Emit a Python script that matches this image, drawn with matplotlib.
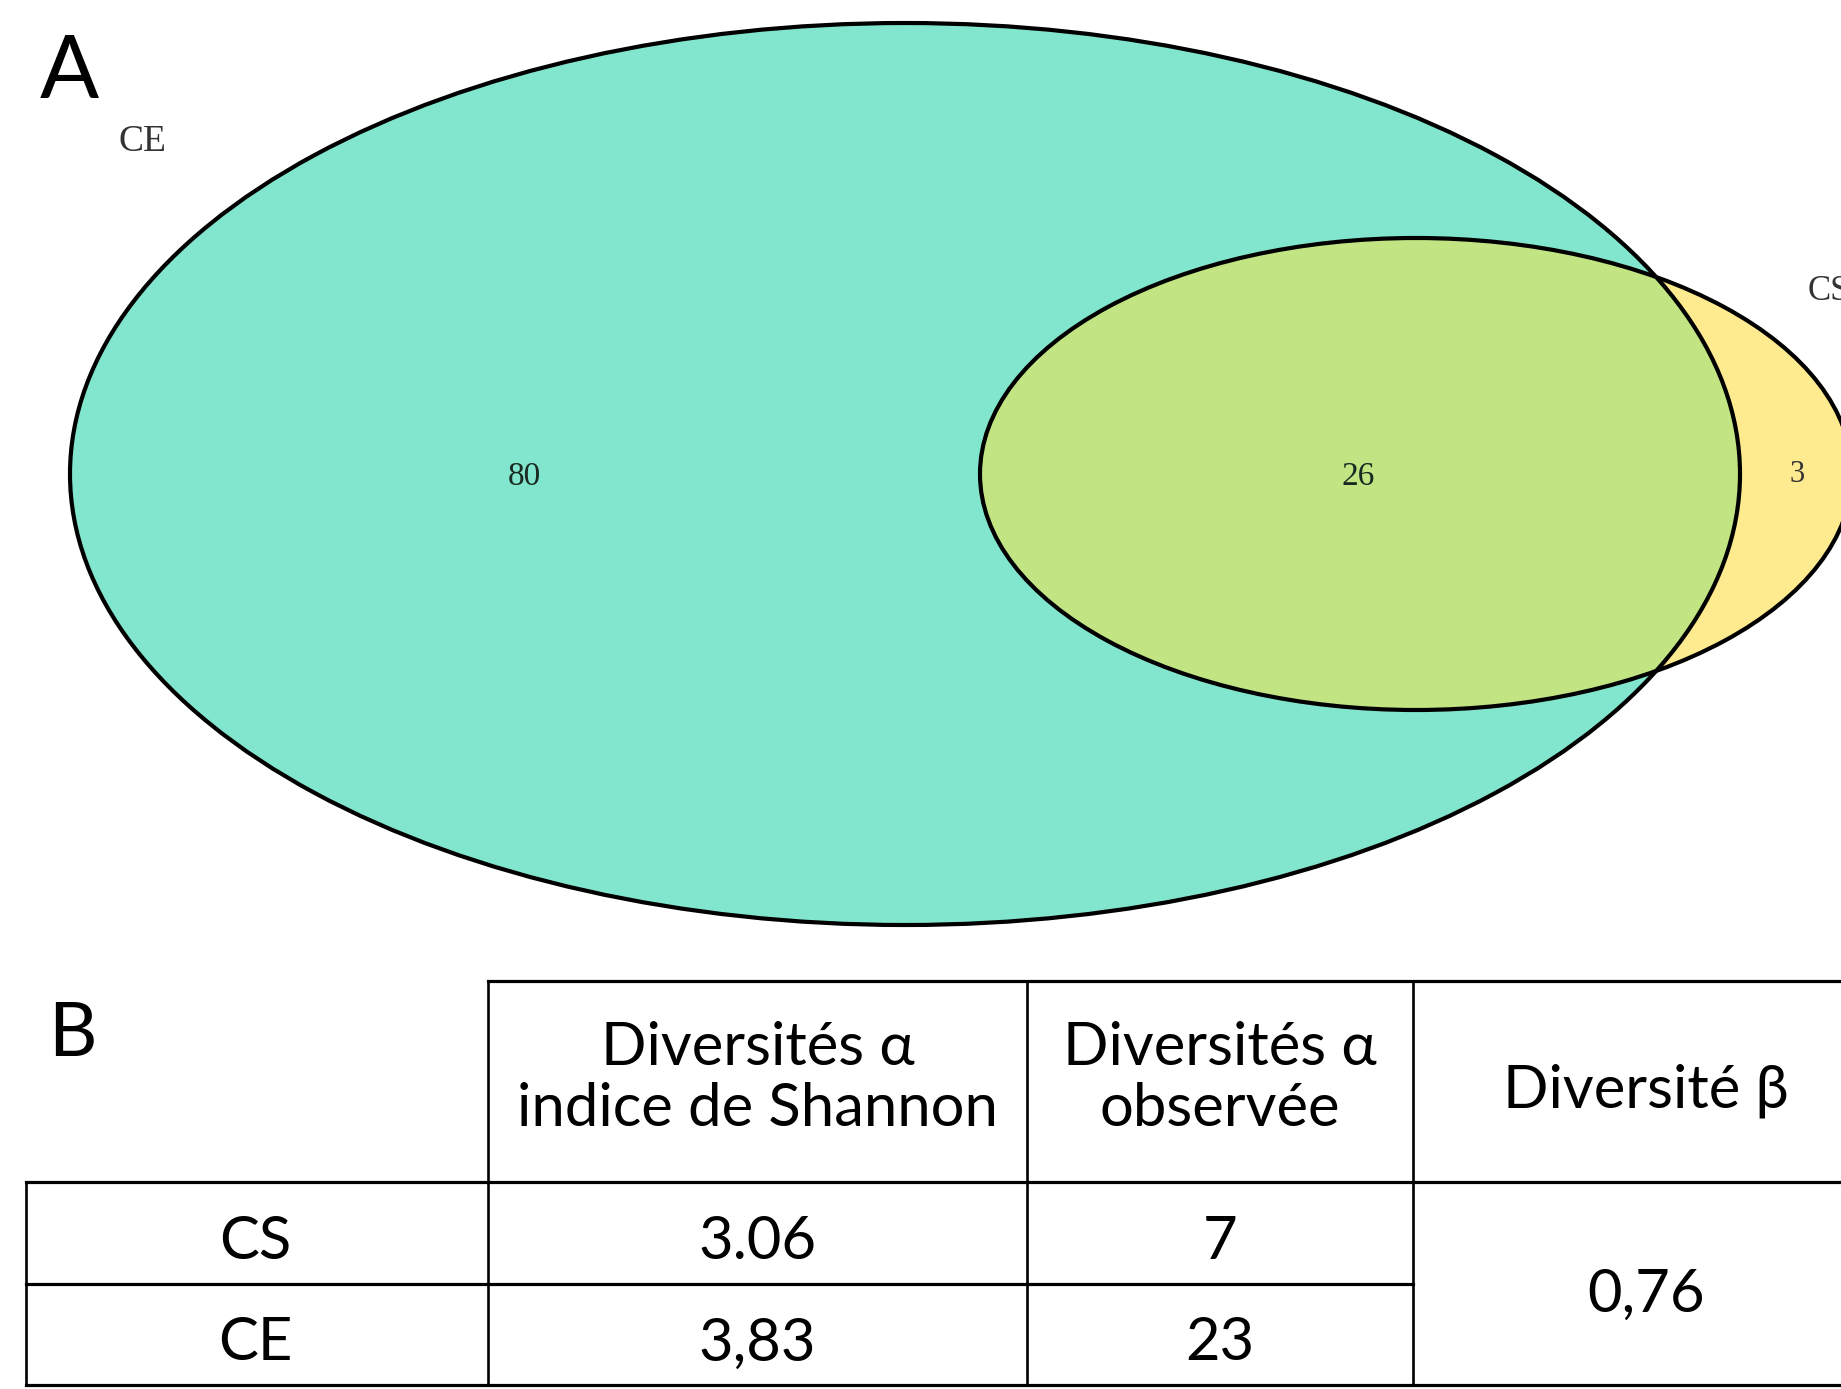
import numpy as np
import matplotlib
matplotlib.use('Agg')
import matplotlib.pyplot as plt
from matplotlib.patches import Ellipse

#%% DATA
set_names = ['CE', 'CS']
venn_counts = [80, 26, 3]          # CE seul, CE & CS, CS seul

col_header = ['Diversités α\nindice de Shannon', 'Diversités α\nobservée', 'Diversité β']
row_names = ['CS', 'CE']
shannon = ['3.06', '3,83']
observed = ['7', '23']
beta = '0,76'

#%% STYLE / LAYOUT (pixel coordinates)
W, H = 1841, 1389
teal = '#82E6CF'
green = '#C2E482'
yellow = '#FEEA8F'
serif = 'Liberation Serif'
sans = ['Lato', 'DejaVu Sans']

ce_c, ce_a, ce_b = (905, 474), 835, 451
cs_c, cs_a, cs_b = (1416, 474), 436, 236

fig = plt.figure(figsize=(W / 100, H / 100), dpi=100)
ax = fig.add_axes([0, 0, 1, 1])
ax.set_xlim(0, W)
ax.set_ylim(H, 0)
ax.axis('off')

#%% VENN
ax.add_patch(Ellipse(ce_c, 2 * ce_a, 2 * ce_b, facecolor=teal, edgecolor='none'))
ax.add_patch(Ellipse(cs_c, 2 * cs_a, 2 * cs_b, facecolor=yellow, edgecolor='none'))
inter = Ellipse(cs_c, 2 * cs_a, 2 * cs_b, facecolor=green, edgecolor='none')
ax.add_patch(inter)
clip = Ellipse(ce_c, 2 * ce_a, 2 * ce_b, transform=ax.transData)
inter.set_clip_path(clip)
ax.add_patch(Ellipse(ce_c, 2 * ce_a, 2 * ce_b, facecolor='none', edgecolor='k', lw=3))
ax.add_patch(Ellipse(cs_c, 2 * cs_a, 2 * cs_b, facecolor='none', edgecolor='k', lw=3))

ax.text(524, 477, str(venn_counts[0]), fontsize=24, family=serif, color='#1a2a22',
        ha='center', va='center')
ax.text(1358, 477, str(venn_counts[1]), fontsize=24, family=serif, color='#1a2a22',
        ha='center', va='center')
ax.text(1797, 475, str(venn_counts[2]), fontsize=22, family=serif, color='#333333',
        ha='center', va='center')
ax.text(142, 142, set_names[0], fontsize=27, family=serif, color='#333333',
        ha='center', va='center')
ax.text(1808, 291, set_names[1], fontsize=25, family=serif, color='#333333',
        ha='left', va='center')

ax.text(40, 74, 'A', fontsize=63, family=sans, ha='left', va='center')

#%% TABLEAU
x_cols = [26, 488, 1027, 1413, W + 10]
y_rows = [981, 1182, 1284, 1385]
lw_t = 1.9
ax.plot([x_cols[1], x_cols[-1]], [y_rows[0]] * 2, color='k', lw=lw_t + 0.4)
ax.plot([x_cols[0], x_cols[-1]], [y_rows[1]] * 2, color='k', lw=lw_t + 0.4)
ax.plot([x_cols[0], x_cols[3]], [y_rows[2]] * 2, color='k', lw=lw_t + 0.4)
ax.plot([x_cols[0], x_cols[-1]], [y_rows[3]] * 2, color='k', lw=lw_t + 0.4)
ax.plot([x_cols[0]] * 2, [y_rows[1], y_rows[3]], color='k', lw=lw_t)
for xc in x_cols[1:4]:
    ax.plot([xc] * 2, [y_rows[0], y_rows[3]], color='k', lw=lw_t)

ax.text(48, 1034, 'B', fontsize=54, family=sans, ha='left', va='center')

fs = 43
centers = [(x_cols[i] + x_cols[i + 1]) / 2 for i in range(3)]
centers.append(1646)
hy = (y_rows[0] + y_rows[1]) / 2
for i, lab in enumerate(col_header):
    ax.text(centers[i + 1], hy - 3 if i < 2 else hy + 9, lab, fontsize=fs, family=sans,
            ha='center', va='center', linespacing=1.15)
for j, r in enumerate(row_names):
    ym = (y_rows[j + 1] + y_rows[j + 2]) / 2 + 9
    ax.text(centers[0] - 2, ym, r, fontsize=fs, family=sans, ha='center', va='center')
    ax.text(centers[1], ym, shannon[j], fontsize=fs, family=sans, ha='center', va='center')
    ax.text(centers[2], ym, observed[j], fontsize=fs, family=sans, ha='center', va='center')
ax.text(centers[3], (y_rows[1] + y_rows[3]) / 2 + 11, beta, fontsize=fs, family=sans,
        ha='center', va='center')

fig.savefig('out.png', dpi=100)
